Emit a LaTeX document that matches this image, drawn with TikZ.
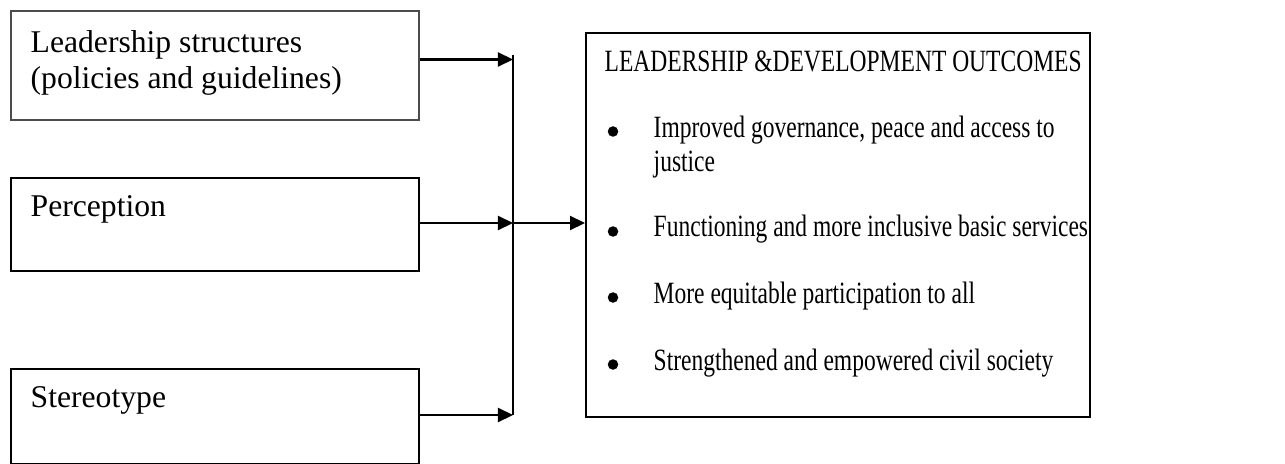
\documentclass[tikz,border=0pt]{standalone}
\usepackage{fontspec}
\setmainfont{Liberation Serif}
\newfontfamily\narrowserif{Liberation Serif}[FakeStretch=0.76]
\usepackage{tikz}
\usetikzlibrary{positioning,arrows.meta,calc}
\tikzset{
  box/.style={rectangle, draw=black, line width=0.6pt, anchor=north west,
    inner sep=0pt},
  txt/.style={anchor=base west, inner sep=0pt, align=left,
    font=\fontsize{9.0}{10.5}\selectfont},
  itm/.style={txt, font=\narrowserif\fontsize{8.8}{9.85}\selectfont},
  dot/.style={circle, fill=black, inner sep=0pt, minimum size=0.105cm},
  arrow/.style={-{Triangle[length=0.15cm, width=0.14cm]}, line width=0.6pt}
}

\begin{document}
\begin{tikzpicture}[x=0.01cm, y=-0.01cm]
  \useasboundingbox (0,0) rectangle (1285,464);
  % factor boxes on the left
  \node[box, draw=black!70, minimum width=4.08cm, minimum height=1.09cm] (lead) at (10,10) {};
  \node[box, minimum width=4.08cm, minimum height=0.93cm] (perc) at (10,177) {};
  \node[box, minimum width=4.08cm, minimum height=0.95cm] (ster) at (10,368) {};
  % (base of a two-line node is its last line)
  \node[txt] (leadt) at (30,89) {Leadership structures\\(policies and guidelines)};
  \node[txt] (perct) at (30,216) {Perception};
  \node[txt] (stert) at (30,407) {Stereotype};
  % outcomes box
  \node[box, minimum width=5.04cm, minimum height=3.84cm] (out) at (585,32) {};
  \node[itm] (outt) at (604,72) {LEADERSHIP \&DEVELOPMENT OUTCOMES};
  \node[dot] (d1) at (613,131.5) {};
  \node[itm] (o1) at (653,172) {Improved governance, peace and access to\\justice};
  \node[dot] (d2) at (613,231.5) {};
  \node[itm] (o2) at (653,237) {Functioning and more inclusive basic services};
  \node[dot] (d3) at (613,297.5) {};
  \node[itm] (o3) at (653,303) {More equitable participation to all};
  \node[dot] (d4) at (613,364.5) {};
  \node[itm] (o4) at (653,370) {Strengthened and empowered civil society};
  % collecting line
  \coordinate (top) at (513,55);
  \coordinate (b1) at (513,59.5);
  \coordinate (b2) at (513,223);
  \coordinate (b3) at (513,415);
  \draw[line width=0.6pt] (top) -- (b3);
  \draw[arrow] (lead.east |- b1) -- (b1);
  \draw[arrow] (perc.east |- b2) -- (b2);
  \draw[arrow] (ster.east |- b3) -- (b3);
  \draw[arrow] (b2) -- (out.west |- b2);
\end{tikzpicture}
\end{document}
